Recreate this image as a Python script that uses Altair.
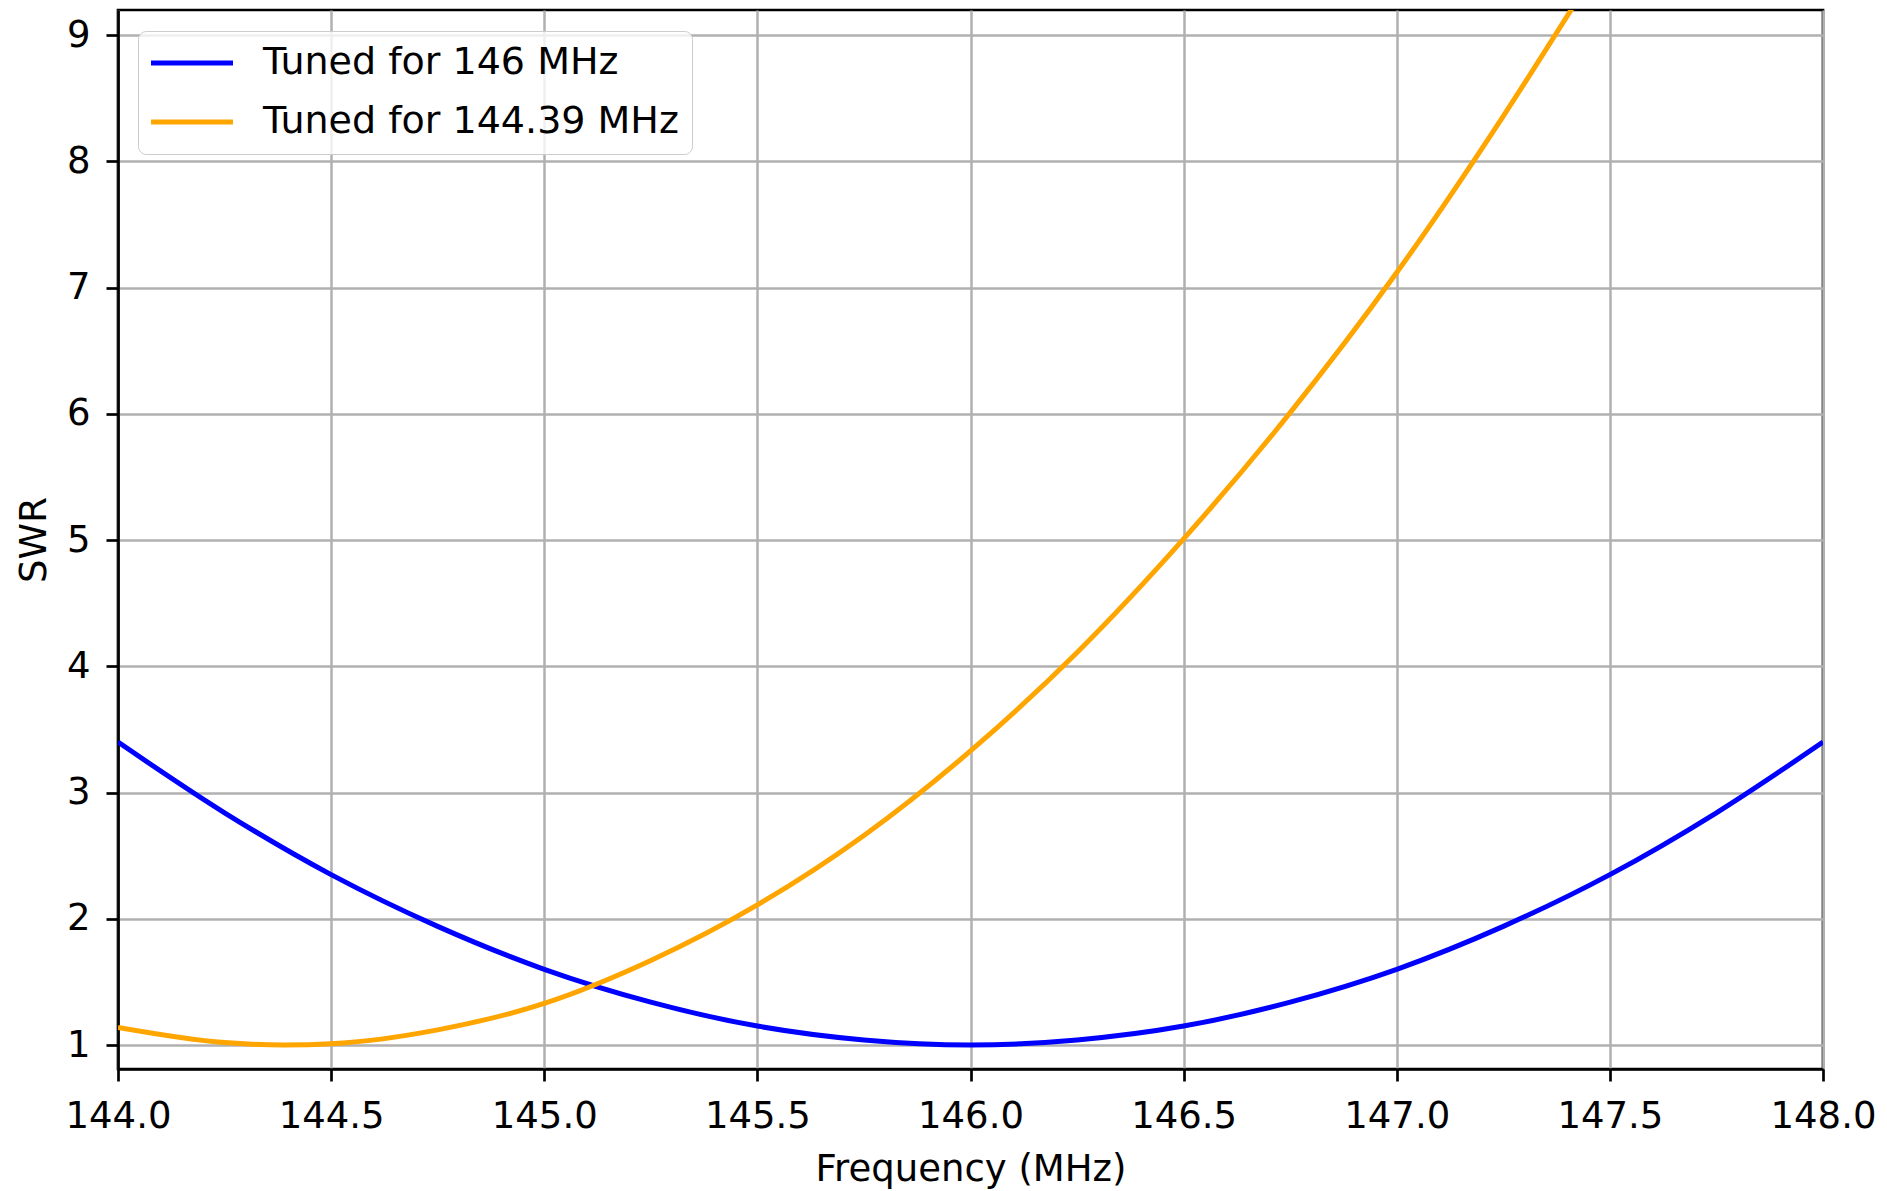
import altair as alt
import pandas as pd

# ---- data ----
series_names = ["Tuned for 146 MHz", "Tuned for 144.39 MHz"]
series_colors = ["#0000ff", "#ffa500"]

freq_146 = [144.0, 144.25, 144.5, 144.75, 145.0, 145.25, 145.5, 145.75, 146.0,
            146.25, 146.5, 146.75, 147.0, 147.25, 147.5, 147.75, 148.0]
swr_146 = [3.40, 2.84, 2.35, 1.94, 1.60, 1.34, 1.15, 1.04, 1.00,
           1.04, 1.15, 1.34, 1.60, 1.94, 2.35, 2.84, 3.40]

freq_14439 = [144.0, 144.25, 144.39, 144.5, 144.75, 145.0, 145.25, 145.5, 145.75,
              146.0, 146.25, 146.5, 146.75, 147.0, 147.25, 147.42]
swr_14439 = [1.14, 1.02, 1.00, 1.01, 1.12, 1.33, 1.67, 2.11, 2.66,
             3.33, 4.11, 5.01, 6.01, 7.12, 8.36, 9.26]

x_ticks = [144.0, 144.5, 145.0, 145.5, 146.0, 146.5, 147.0, 147.5, 148.0]
y_ticks = [1, 2, 3, 4, 5, 6, 7, 8, 9]

df_a = pd.DataFrame({"freq": freq_146, "swr": swr_146, "series": series_names[0]})
df_b = pd.DataFrame({"freq": freq_14439, "swr": swr_14439, "series": series_names[1]})

FONT = "DejaVu Sans"
FS = 37

x_enc = alt.X("freq:Q", title="Frequency (MHz)",
              scale=alt.Scale(domain=[144.0, 148.0], nice=False, zero=False),
              axis=alt.Axis(values=x_ticks, format=".1f", labelFlush=False,
                            labelOverlap=False, labelBaseline="alphabetic",
                            labelPadding=46, titleY=111,
                            titleBaseline="alphabetic"))
y_enc = alt.Y("swr:Q", title="SWR",
              scale=alt.Scale(domain=[0.81, 9.2], nice=False, zero=False),
              axis=alt.Axis(values=y_ticks, format="d", labelOverlap=False,
                            labelPadding=16, titleX=-73, titleY=529.5,
                            titleAngle=-90, titleBaseline="alphabetic",
                            titleAlign="center"))
color_enc = alt.Color("series:N",
                      scale=alt.Scale(domain=series_names, range=series_colors),
                      legend=alt.Legend(title=None, orient="none", legendX=20, legendY=21,
                                        symbolType="M-1.9,0H6.3", symbolSize=400,
                                        symbolStrokeWidth=5, labelFontSize=38,
                                        labelFont=FONT, labelColor="black",
                                        labelOffset=74, rowPadding=21, padding=13,
                                        strokeColor="#cccccc", fillColor="rgba(255,255,255,0.8)",
                                        cornerRadius=8, labelLimit=1000))

line_a = alt.Chart(df_a).mark_line(strokeWidth=5, interpolate="monotone", clip=True).encode(
    x=x_enc, y=y_enc, color=color_enc)
line_b = alt.Chart(df_b).mark_line(strokeWidth=5, interpolate="monotone", clip=True).encode(
    x=x_enc, y=y_enc, color=color_enc)

chart = alt.layer(line_a, line_b).properties(
    width=1705, height=1059,
    autosize=alt.AutoSizeParams(type="none"),
    padding={"left": 118, "top": 10, "right": 64, "bottom": 122},
    background="white",
).configure_view(
    stroke="black", strokeWidth=2.7
).configure_axis(
    domainColor="black", domainWidth=2.7,
    tickColor="black", tickWidth=2.7, tickSize=12,
    gridColor="#b0b0b0", gridWidth=2.5, grid=True,
    labelFont=FONT, labelFontSize=FS, labelColor="black",
    titleFont=FONT, titleFontSize=FS, titleFontWeight="normal", titleColor="black",
)

chart.save("out.html", embed_options={"renderer": "svg", "actions": False})
